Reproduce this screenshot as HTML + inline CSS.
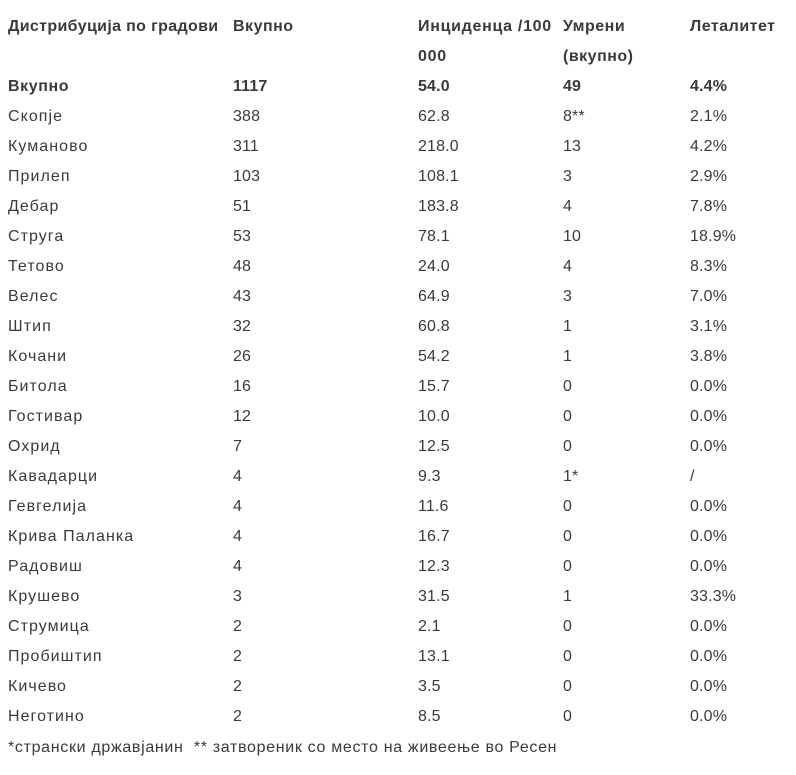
<!DOCTYPE html>
<html>
<head>
<meta charset="utf-8">
<style>
  html, body { margin: 0; padding: 0; background: #ffffff; }
  body { width: 796px; height: 775px; position: relative; overflow: hidden;
         font-family: "Liberation Sans", "DejaVu Sans", sans-serif; font-size: 16px; color: #3a3a3a; }
  table { position: absolute; left: 8px; top: 12px; border-collapse: collapse; table-layout: fixed; }
  td { padding: 0; margin: 0; line-height: 30px; height: 30px; vertical-align: top; white-space: nowrap; letter-spacing: 0.15px; }
  td.c1 { width: 225px; }
  td.c2 { width: 185px; }
  td.c3 { width: 145px; }
  td.c4 { width: 127px; }
  td.c5 { width: 100px; }
  tr td:first-child { letter-spacing: 1.05px; }
  tr.b td { font-weight: bold; }
  tr.h td { height: 60px; letter-spacing: 0.5px; }
  tr.h td.c3 { letter-spacing: 0.7px; }
  tr.h td.c1 { letter-spacing: 0.35px; }
  tr.b2 td:first-child { letter-spacing: 0.6px; }
  .foot { position: absolute; left: 8px; top: 733px; line-height: 30px; white-space: nowrap; letter-spacing: 0.68px; }
</style>
</head>
<body>
<table>
  <tr class="b h"><td class="c1">Дистрибуција по градови</td><td class="c2">Вкупно</td><td class="c3">Инциденца /100<br>000</td><td class="c4">Умрени<br>(вкупно)</td><td class="c5">Леталитет</td></tr>
  <tr class="b b2"><td>Вкупно</td><td>1117</td><td>54.0</td><td>49</td><td>4.4%</td></tr>
  <tr><td>Скопје</td><td>388</td><td>62.8</td><td>8**</td><td>2.1%</td></tr>
  <tr><td>Куманово</td><td>311</td><td>218.0</td><td>13</td><td>4.2%</td></tr>
  <tr><td>Прилеп</td><td>103</td><td>108.1</td><td>3</td><td>2.9%</td></tr>
  <tr><td>Дебар</td><td>51</td><td>183.8</td><td>4</td><td>7.8%</td></tr>
  <tr><td>Струга</td><td>53</td><td>78.1</td><td>10</td><td>18.9%</td></tr>
  <tr><td>Тетово</td><td>48</td><td>24.0</td><td>4</td><td>8.3%</td></tr>
  <tr><td>Велес</td><td>43</td><td>64.9</td><td>3</td><td>7.0%</td></tr>
  <tr><td>Штип</td><td>32</td><td>60.8</td><td>1</td><td>3.1%</td></tr>
  <tr><td>Кочани</td><td>26</td><td>54.2</td><td>1</td><td>3.8%</td></tr>
  <tr><td>Битола</td><td>16</td><td>15.7</td><td>0</td><td>0.0%</td></tr>
  <tr><td>Гостивар</td><td>12</td><td>10.0</td><td>0</td><td>0.0%</td></tr>
  <tr><td>Охрид</td><td>7</td><td>12.5</td><td>0</td><td>0.0%</td></tr>
  <tr><td>Кавадарци</td><td>4</td><td>9.3</td><td>1*</td><td>/</td></tr>
  <tr><td>Гевгелија</td><td>4</td><td>11.6</td><td>0</td><td>0.0%</td></tr>
  <tr><td>Крива Паланка</td><td>4</td><td>16.7</td><td>0</td><td>0.0%</td></tr>
  <tr><td>Радовиш</td><td>4</td><td>12.3</td><td>0</td><td>0.0%</td></tr>
  <tr><td>Крушево</td><td>3</td><td>31.5</td><td>1</td><td>33.3%</td></tr>
  <tr><td>Струмица</td><td>2</td><td>2.1</td><td>0</td><td>0.0%</td></tr>
  <tr><td>Пробиштип</td><td>2</td><td>13.1</td><td>0</td><td>0.0%</td></tr>
  <tr><td>Кичево</td><td>2</td><td>3.5</td><td>0</td><td>0.0%</td></tr>
  <tr><td>Неготино</td><td>2</td><td>8.5</td><td>0</td><td>0.0%</td></tr>
</table>
<div class="foot">*странски државјанин&nbsp; ** затвореник со место на живеење во Ресен</div>
</body>
</html>
